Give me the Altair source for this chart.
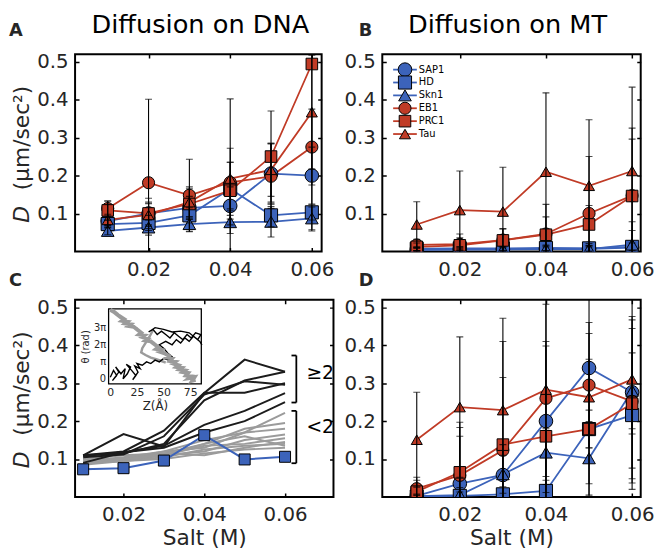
import altair as alt
import pandas as pd

FONT = "DejaVu Sans"
TXT = "#262626"
BLUE = "#3c63ba"
RED = "#c03b26"
GRAY = "#9b9b9b"
DARK = "#1c1c1c"

# ---------------- shared categories / ticks ----------------
salt = [0.01, 0.02, 0.03, 0.04, 0.05, 0.06]
series = ["SAP1", "HD", "Skn1", "EB1", "PRC1", "Tau"]
series_colors = [BLUE, BLUE, BLUE, RED, RED, RED]
series_shapes = ["circle", "square", "triangle-up", "circle", "square", "triangle-up"]
series_sizes = [190, 125, 210, 190, 125, 210]
legend_sizes = [80, 50, 90, 80, 50, 90]
x_ticks = [0.02, 0.04, 0.06]
y_ticks = [0.1, 0.2, 0.3, 0.4, 0.5]
y_domain = [0, 0.52]
y_title_var = "D"
y_title_unit = "(μm/sec²)"

# ---------------- Panel A: diffusion on DNA ----------------
dna_sap1 = [0.080, 0.100, 0.115, 0.120, 0.205, 0.200]
dna_hd = [0.072, 0.075, 0.095, 0.165, 0.095, 0.103]
dna_skn1 = [0.054, 0.063, 0.072, 0.077, 0.078, 0.087]
dna_eb1 = [0.113, 0.181, 0.148, 0.182, 0.198, 0.275]
dna_prc1 = [0.108, 0.100, 0.125, 0.160, 0.250, 0.494]
dna_tau = [0.083, 0.096, 0.130, 0.192, 0.215, 0.367]
dna_sap1_err = [0.010, 0.030, 0.030, 0.050, 0.080, 0.075]
dna_hd_err = [0.010, 0.020, 0.020, 0.070, 0.030, 0.020]
dna_skn1_err = [0.010, 0.020, 0.020, 0.030, 0.040, 0.030]
dna_eb1_err = [0.020, 0.220, 0.095, 0.220, 0.085, 0.100]
dna_prc1_err = [0.025, 0.040, 0.040, 0.075, 0.120, 0.440]
dna_tau_err = [0.015, 0.030, 0.040, 0.080, 0.070, 0.150]

# ---------------- Panel B: diffusion on MT ----------------
mt_sap1 = [0.005, 0.006, 0.006, 0.007, 0.007, 0.010]
mt_hd = [0.007, 0.008, 0.008, 0.009, 0.008, 0.012]
mt_skn1 = [0.004, 0.005, 0.005, 0.006, 0.006, 0.018]
mt_eb1 = [0.017, 0.019, 0.030, 0.046, 0.100, 0.147]
mt_prc1 = [0.012, 0.016, 0.029, 0.044, 0.071, 0.146]
mt_tau = [0.071, 0.109, 0.105, 0.210, 0.173, 0.212]
mt_sap1_err = [0.005, 0.005, 0.005, 0.008, 0.008, 0.045]
mt_hd_err = [0.005, 0.005, 0.005, 0.008, 0.008, 0.010]
mt_skn1_err = [0.004, 0.004, 0.004, 0.006, 0.006, 0.060]
mt_eb1_err = [0.015, 0.027, 0.030, 0.078, 0.150, 0.178]
mt_prc1_err = [0.010, 0.020, 0.030, 0.047, 0.050, 0.150]
mt_tau_err = [0.060, 0.103, 0.117, 0.208, 0.174, 0.221]

# ---------------- Panel D: diffusion on MT (second set) ----------------
d_sap1 = [0.003, 0.035, 0.058, 0.200, 0.340, 0.276]
d_hd = [0.001, 0.003, 0.007, 0.016, 0.179, 0.216]
d_skn1 = [0.002, 0.005, 0.060, 0.117, 0.102, 0.280]
d_eb1 = [0.022, 0.057, 0.123, 0.260, 0.295, 0.252]
d_prc1 = [0.014, 0.065, 0.138, 0.160, 0.179, 0.246]
d_tau = [0.151, 0.237, 0.229, 0.283, 0.263, 0.310]
d_sap1_err = [0.005, 0.125, 0.080, 0.210, 0.305, 0.200]
d_hd_err = [0.003, 0.010, 0.020, 0.028, 0.050, 0.050]
d_skn1_err = [0.004, 0.020, 0.050, 0.063, 0.097, 0.100]
d_eb1_err = [0.030, 0.140, 0.192, 0.248, 0.165, 0.215]
d_prc1_err = [0.030, 0.118, 0.272, 0.238, 0.252, 0.198]
d_tau_err = [0.125, 0.185, 0.242, 0.250, 0.100, 0.290]

# ---------------- Panel C: DNA, single variants ----------------
c_hd = [0.073, 0.076, 0.096, 0.163, 0.099, 0.106]
c_black_1 = [0.110, 0.166, 0.133, 0.274, 0.362, 0.330]
c_black_2 = [0.110, 0.115, 0.140, 0.255, 0.307, 0.330]
c_black_3 = [0.110, 0.120, 0.175, 0.275, 0.275, 0.300]
c_black_4 = [0.105, 0.112, 0.160, 0.270, 0.305, 0.296]
c_black_5 = [0.090, 0.118, 0.135, 0.190, 0.227, 0.274]
c_black_6 = [0.108, 0.118, 0.130, 0.170, 0.200, 0.250]
c_gray_1 = [0.100, 0.100, 0.120, 0.130, 0.170, 0.222]
c_gray_2 = [0.100, 0.110, 0.115, 0.140, 0.180, 0.195]
c_gray_3 = [0.095, 0.105, 0.120, 0.150, 0.170, 0.180]
c_gray_4 = [0.090, 0.100, 0.110, 0.120, 0.150, 0.165]
c_gray_5 = [0.090, 0.095, 0.110, 0.135, 0.140, 0.155]
c_gray_6 = [0.090, 0.100, 0.115, 0.110, 0.130, 0.145]
c_gray_7 = [0.085, 0.095, 0.105, 0.125, 0.135, 0.140]
c_gray_8 = [0.090, 0.095, 0.100, 0.115, 0.125, 0.130]
c_gray_9 = [0.100, 0.100, 0.110, 0.140, 0.160, 0.135]
c_x_domain = [0.008, 0.072]
bracket_labels = ["≥2", "<2"]
bracket_lo = [0.249, 0.089]
bracket_hi = [0.373, 0.227]
bracket_label_y = [0.326, 0.184]
bracket_x = 0.0628
bracket_x_in = 0.0616
bracket_label_x = 0.0653

# inset: trajectories, Z (Angstrom) vs theta (units of pi)
inset_z_domain = [-1.6, 85.4]
inset_th_domain = [-0.29, 4.1]
inset_z_ticks = [0, 25, 50, 75]
inset_th_ticks = [0, 1, 2, 3]
gray_traj_z = [0, 4, 2, 7, 5, 10, 8, 13, 11, 16, 14, 19, 17, 22, 26, 24, 29, 27, 32, 30, 35,
               33, 38, 42, 40, 45, 43, 48, 46, 51, 55, 53, 58, 56, 61, 59, 64, 62, 67, 65, 70,
               68, 73, 71, 76, 74, 79, 77, 80]
gray_traj_th = [4.05, 3.9, 4.0, 3.75, 3.85, 3.6, 3.7, 3.5, 3.4, 3.35, 3.25, 3.2, 3.1, 3.05,
                2.85, 2.95, 2.7, 2.6, 2.55, 2.45, 2.35, 2.25, 2.2, 2.0, 2.1, 1.85, 1.75, 1.7,
                1.6, 1.5, 1.35, 1.25, 1.2, 1.05, 1.0, 0.9, 0.8, 0.7, 0.65, 0.55, 0.5, 0.4,
                0.35, 0.2, 0.15, 0.05, 0.1, -0.1, -0.05]
gray_branch_z = [40, 37, 33, 30, 29, 33, 38, 43, 48, 52]
gray_branch_th = [2.85, 2.5, 2.1, 1.8, 1.55, 1.4, 1.25, 1.15, 1.05, 0.95]
black_traj_z = [0, 3, 6, 2, 8, 5, 10, 14, 12, 16, 19, 15, 20, 24, 21, 26, 23, 28, 25, 30,
                34, 38, 42, 46, 50, 55, 58, 54, 50, 46, 52, 58, 62, 66, 70, 74, 78, 82, 85,
                80, 76, 72, 68, 64, 60, 56, 52, 48, 44, 40, 36, 42, 50, 58, 66, 74, 84, 86]
black_traj_th = [0.1, 0.5, 0.2, -0.1, 0.4, 0.7, 0.3, 0.6, 0.0, 0.3, 0.7, 0.85, 0.5, 0.2,
                 -0.05, 0.4, 0.75, 0.6, 0.9, 0.8, 1.0, 0.9, 1.1, 1.0, 1.2, 1.1, 1.3, 1.5,
                 1.8, 2.0, 2.2, 2.0, 2.3, 2.1, 2.4, 2.2, 2.5, 2.3, 2.6, 2.7, 2.4, 2.6, 2.3,
                 2.5, 2.7, 2.4, 2.6, 2.8, 2.6, 2.9, 2.75, 3.0, 2.9, 2.75, 2.8, 2.7, 2.2, 2.0]

# ---------------- helpers ----------------
col_scale = alt.Scale(domain=series, range=series_colors)
shape_scale = alt.Scale(domain=series, range=series_shapes)
size_scale = alt.Scale(domain=series, range=series_sizes)


def long_df(values, errors):
    rows = []
    for s, vals, errs in zip(series, values, errors):
        for x, v, e in zip(salt, vals, errs):
            rows.append({"salt": x, "D": v, "lo": v - e, "hi": v + e, "series": s})
    return pd.DataFrame(rows)


def x_axis(H, title=None):
    return alt.Axis(values=x_ticks, format=".2f", labelFontSize=20, labelPadding=8,
                    labelColor=TXT, labelFont=FONT, ticks=False, tickSize=0, domain=False,
                    grid=True, gridColor="black", gridWidth=1.5, gridOpacity=1,
                    gridDash=[4, H - 8, 4], title=title, titleFontSize=22,
                    titleFontWeight="normal", titleFont=FONT, titleColor=TXT, titlePadding=3,
                    labelOverlap=False)


def y_axis(W):
    return alt.Axis(values=y_ticks, format=".1f", labelFontSize=20, labelPadding=7,
                    labelColor=TXT, labelFont=FONT, ticks=False, tickSize=0, domain=False,
                    grid=True, gridColor="black", gridWidth=1.5, gridOpacity=1,
                    gridDash=[4, W - 8, 4], title=None, labelOverlap=False)


def text_layer(txt, x, y, size, weight="normal", style="normal", angle=0, align="left"):
    return alt.Chart(pd.DataFrame({"t": [txt]})).mark_text(
        fontSize=size, font=FONT, fontWeight=weight, fontStyle=style,
        color="black" if size >= 25 else TXT, align=align, baseline="alphabetic",
        angle=angle
    ).encode(text="t:N", x=alt.value(x), y=alt.value(y))


def annotations(title, letter, letter_dx, letter_y, ytitle=False):
    layers = []
    if title:
        layers.append(text_layer(title, 127, -21, 26, align="center"))
    layers.append(text_layer(letter, letter_dx, letter_y, 18, weight="bold"))
    if ytitle:
        layers.append(text_layer(y_title_var, -47, 162.5, 22, style="italic", angle=270,
                                 align="center"))
        layers.append(text_layer(y_title_unit, -47, 85, 22, angle=270, align="center"))
    return layers


def series_panel(df, W, H, xdom, xtitle):
    X = lambda f: alt.X(f, scale=alt.Scale(domain=xdom, nice=False, zero=False),
                        axis=x_axis(H, xtitle))
    Y = lambda f: alt.Y(f, scale=alt.Scale(domain=y_domain, nice=False, zero=False),
                        axis=y_axis(W))
    base = alt.Chart(df)
    lines = base.mark_line(strokeWidth=1.8, clip=True).encode(
        x=X("salt:Q"), y=Y("D:Q"),
        color=alt.Color("series:N", scale=col_scale, legend=None),
    )
    pts = base.mark_point(filled=True, opacity=1, stroke="black", strokeWidth=1,
                          clip=True).encode(
        x=X("salt:Q"), y=Y("D:Q"),
        fill=alt.Fill("series:N", scale=col_scale, legend=None),
        shape=alt.Shape("series:N", scale=shape_scale, legend=None),
        size=alt.Size("series:N", scale=size_scale, legend=None),
    )
    bars = base.mark_rule(color="black", strokeWidth=1.1, clip=True).encode(
        x=X("salt:Q"), y=Y("lo:Q"), y2="hi:Q",
    )
    cap_lo = base.mark_tick(color="black", thickness=1.1, size=7, orient="horizontal",
                            clip=True).encode(x=X("salt:Q"), y=Y("lo:Q"))
    cap_hi = base.mark_tick(color="black", thickness=1.1, size=7, orient="horizontal",
                            clip=True).encode(x=X("salt:Q"), y=Y("hi:Q"))
    return [lines, pts, bars, cap_lo, cap_hi]


W_A, W_B, H = 250, 262, 200
xdom_A = [0.002, 0.0624]
xdom_B = [0.002, 0.062]

# ---------------- Panel A ----------------
dfA = long_df([dna_sap1, dna_hd, dna_skn1, dna_eb1, dna_prc1, dna_tau],
              [dna_sap1_err, dna_hd_err, dna_skn1_err, dna_eb1_err, dna_prc1_err, dna_tau_err])
panelA = alt.layer(
    *series_panel(dfA, W_A, H, xdom_A, None),
    *annotations("Diffusion on DNA", "A", -67, -18, ytitle=True),
).properties(width=W_A, height=H)

# ---------------- Panel B (with legend) ----------------
dfB = long_df([mt_sap1, mt_hd, mt_skn1, mt_eb1, mt_prc1, mt_tau],
              [mt_sap1_err, mt_hd_err, mt_skn1_err, mt_eb1_err, mt_prc1_err, mt_tau_err])
leg_df = pd.DataFrame({"series": series, "row": list(range(len(series)))})
leg_y = alt.Y("row:Q", scale=alt.Scale(domain=[0, len(series) - 1], range=[15.7, 81],
                                       nice=False, zero=False), axis=None)
leg_line = alt.Chart(leg_df).mark_rule(strokeWidth=1.8).encode(
    x=alt.value(11), x2=alt.value(35), y=leg_y,
    color=alt.Color("series:N", scale=col_scale, legend=None))
leg_pts = alt.Chart(leg_df).mark_point(filled=True, opacity=1, stroke="black",
                                        strokeWidth=1).encode(
    x=alt.value(23), y=leg_y,
    fill=alt.Fill("series:N", scale=col_scale, legend=None),
    shape=alt.Shape("series:N", scale=shape_scale, legend=None),
    size=alt.Size("series:N", scale=alt.Scale(domain=series, range=legend_sizes),
                  legend=None))
leg_txt = alt.Chart(leg_df).mark_text(fontSize=10, font=FONT, align="left",
                                       baseline="middle", color="black").encode(
    x=alt.value(37), y=leg_y, text="series:N")
panelB = alt.layer(
    alt.layer(*series_panel(dfB, W_B, H, xdom_B, None),
              *annotations("Diffusion on MT", "B", -24, -18)),
    alt.layer(leg_line, leg_pts, leg_txt),
).resolve_scale(y="independent").properties(width=W_B, height=H)

# ---------------- Panel C ----------------
XC = lambda f: alt.X(f, scale=alt.Scale(domain=c_x_domain, nice=False, zero=False),
                     axis=x_axis(H, "Salt (M)"))
YC = lambda f: alt.Y(f, scale=alt.Scale(domain=y_domain, nice=False, zero=False),
                     axis=y_axis(W_B))


def lines_df(groups):
    rows = []
    for gi, g in enumerate(groups):
        for x, v in zip(salt, g):
            rows.append({"salt": x, "D": v, "line": gi})
    return pd.DataFrame(rows)


gray_df = lines_df([c_gray_1, c_gray_2, c_gray_3, c_gray_4, c_gray_5, c_gray_6, c_gray_7,
                    c_gray_8, c_gray_9])
black_df = lines_df([c_black_1, c_black_2, c_black_3, c_black_4, c_black_5, c_black_6])
hd_df = pd.DataFrame({"salt": salt, "D": c_hd})

c_gray = alt.Chart(gray_df).mark_line(color=GRAY, strokeWidth=2, clip=True).encode(
    x=XC("salt:Q"), y=YC("D:Q"), detail="line:N")
c_black = alt.Chart(black_df).mark_line(color=DARK, strokeWidth=2, clip=True).encode(
    x=XC("salt:Q"), y=YC("D:Q"), detail="line:N")
c_hd_line = alt.Chart(hd_df).mark_line(color=BLUE, strokeWidth=2, clip=True).encode(
    x=XC("salt:Q"), y=YC("D:Q"))
c_hd_pts = alt.Chart(hd_df).mark_point(shape="square", filled=True, fill=BLUE, opacity=1,
                                       stroke="black", strokeWidth=1, size=125,
                                       clip=True).encode(x=XC("salt:Q"), y=YC("D:Q"))

br_df = pd.DataFrame({"label": bracket_labels, "lo": bracket_lo, "hi": bracket_hi,
                      "ly": bracket_label_y, "bx": [bracket_x] * 2,
                      "bxi": [bracket_x_in] * 2, "lx": [bracket_label_x] * 2})
br_v = alt.Chart(br_df).mark_rule(color="black", strokeWidth=1.8).encode(
    x=XC("bx:Q"), y=YC("lo:Q"), y2="hi:Q")
br_t = alt.Chart(br_df).mark_rule(color="black", strokeWidth=1.8).encode(
    x=XC("bxi:Q"), x2="bx:Q", y=YC("hi:Q"))
br_b = alt.Chart(br_df).mark_rule(color="black", strokeWidth=1.8).encode(
    x=XC("bxi:Q"), x2="bx:Q", y=YC("lo:Q"))
br_lab = alt.Chart(br_df).mark_text(fontSize=19, font=FONT, align="left", baseline="middle",
                                     color="black").encode(
    x=XC("lx:Q"), y=YC("ly:Q"), text="label:N")

c_main = alt.layer(c_gray, c_black, c_hd_line, c_hd_pts, br_v, br_t, br_b, br_lab,
                   *annotations(None, "C", -67, -14, ytitle=True))

# inset
inset_x_axis = alt.Axis(orient="bottom", offset=-(H - 85.3), values=inset_z_ticks,
                        labelFontSize=11, labelPadding=3, labelColor=TXT, labelFont=FONT,
                        ticks=False, tickSize=0, domain=False, grid=False, title="Z(Å)",
                        titleFontSize=12, titleFontWeight="normal", titleFont=FONT,
                        titleColor=TXT, titlePadding=3)
inset_y_axis = alt.Axis(orient="left", offset=-34, values=inset_th_ticks,
                        labelExpr="datum.value == 0 ? '0' : (datum.value == 1 ? 'π' : datum.value + 'π')",
                        labelFontSize=10, labelPadding=3, labelColor=TXT, labelFont=FONT,
                        ticks=False, tickSize=0, domain=False, grid=False, title="θ (rad)",
                        titleFontSize=10, titleFontWeight="normal", titleFont=FONT,
                        titleColor=TXT, titlePadding=3)
ZI = lambda f: alt.X(f, scale=alt.Scale(domain=inset_z_domain, range=[34, 128], nice=False,
                                        zero=False), axis=inset_x_axis)
TI = lambda f: alt.Y(f, scale=alt.Scale(domain=inset_th_domain, range=[85.3, 9.3],
                                        nice=False, zero=False), axis=inset_y_axis)
inset_box_df = pd.DataFrame({"z": [inset_z_domain[0]], "z1": [inset_z_domain[1]],
                             "th": [inset_th_domain[0]], "th1": [inset_th_domain[1]]})
inset_box = alt.Chart(inset_box_df).mark_rect(fill="white", stroke="black",
                                               strokeWidth=1.3).encode(
    x=ZI("z:Q"), x2="z1:Q", y=TI("th:Q"), y2="th1:Q")
gray_traj = alt.Chart(pd.DataFrame({"z": gray_traj_z, "th": gray_traj_th,
                                    "i": range(len(gray_traj_z))})).mark_line(
    color=GRAY, strokeWidth=4, clip=True).encode(x=ZI("z:Q"), y=TI("th:Q"), order="i:Q")
gray_br = alt.Chart(pd.DataFrame({"z": gray_branch_z, "th": gray_branch_th,
                                  "i": range(len(gray_branch_z))})).mark_line(
    color=GRAY, strokeWidth=2.5, clip=True).encode(x=ZI("z:Q"), y=TI("th:Q"), order="i:Q")
black_traj = alt.Chart(pd.DataFrame({"z": black_traj_z, "th": black_traj_th,
                                     "i": range(len(black_traj_z))})).mark_line(
    color="black", strokeWidth=1.4, clip=True).encode(x=ZI("z:Q"), y=TI("th:Q"), order="i:Q")
inset = alt.layer(inset_box, gray_br, black_traj, gray_traj)

panelC = alt.layer(c_main, inset).resolve_scale(
    x="independent", y="independent").properties(width=W_B, height=H)

# ---------------- Panel D ----------------
dfD = long_df([d_sap1, d_hd, d_skn1, d_eb1, d_prc1, d_tau],
              [d_sap1_err, d_hd_err, d_skn1_err, d_eb1_err, d_prc1_err, d_tau_err])
panelD = alt.layer(
    *series_panel(dfD, W_B, H, xdom_B, "Salt (M)"),
    *annotations(None, "D", -24, -14),
).properties(width=W_B, height=H)

chart = alt.concat(panelA, panelB, panelC, panelD, columns=2,
                   spacing={"row": 49, "column": 49.5}, bounds="flush").properties(
    padding=0
).configure(font=FONT).configure_view(stroke="black", strokeWidth=2)

chart.save("out.html", embed_options={"renderer": "svg", "actions": False})
